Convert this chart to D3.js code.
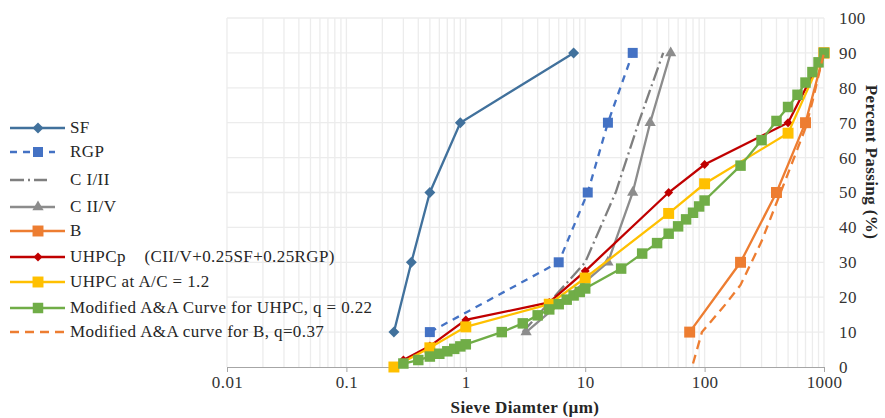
<!DOCTYPE html>
<html>
<head>
<meta charset="utf-8">
<script src="https://cdn.jsdelivr.net/npm/d3@7"></script>
<style>
  body { margin: 0; background: #fff; }
  text { font-family: "Liberation Serif", "Times New Roman", serif; letter-spacing: 0.4px; }
</style>
</head>
<body>
<div id="chart"></div>
<script>
// sieve sizes (um) and percent passing for each series
var sfD = [0.25, 0.35, 0.5, 0.9, 8];
var sfP = [10, 30, 50, 70, 90];
var rgpD = [0.5, 6, 10.5, 15.5, 25];
var rgpP = [10, 30, 50, 70, 90];
var c12D = [3, 10, 18, 28, 45];
var c12P = [10, 30, 50, 70, 90];
var c25D = [3.2, 15.5, 25, 35, 52];
var c25P = [10, 30, 50, 70, 90];
var bD = [75, 200, 400, 700, 1000];
var bP = [10, 30, 50, 70, 90];
var uhpcpD = [0.3, 0.5, 1, 5, 10, 50, 100, 500, 1000];
var uhpcpP = [2, 6, 13.5, 18.5, 27.5, 50, 58, 70, 90];
var uhpcD = [0.25, 0.5, 1, 5, 10, 50, 100, 500, 1000];
var uhpcP = [0, 5.5, 11.5, 18, 25.5, 44, 52.5, 67, 90];
var aaD = [0.3, 0.4, 0.5, 0.6, 0.7, 0.8, 0.9, 1, 2, 3, 4, 5, 6, 7, 8, 9, 10, 20, 30, 40, 50, 60, 70, 80, 90, 100, 200, 300, 400, 500, 600, 700, 800, 900, 1000];
var aaP = [1, 2, 3, 3.8, 4.5, 5.2, 5.9, 6.5, 10, 12.5, 14.8, 16.5, 18, 19.3, 20.5, 21.5, 22.5, 28.2, 32.5, 35.5, 38.2, 40.3, 42.3, 44.2, 46, 47.7, 57.7, 65, 70.5, 74.5, 78, 81.5, 84.5, 87.3, 90];
var aaBD = [80, 95, 150, 200, 300, 400, 500, 600, 700, 800, 900, 1000];
var aaBP = [1, 10, 18, 23.5, 36, 47, 55.5, 62.5, 68.5, 76, 83.5, 90];

var xTicks = [0.01, 0.1, 1, 10, 100, 1000];
var xTickLabels = ["0.01", "0.1", "1", "10", "100", "1000"];
var yTicks = [0, 10, 20, 30, 40, 50, 60, 70, 80, 90, 100];

var series = [
  { name: "SF", d: sfD, p: sfP, color: "#41719C", sym: "diamond", size: 60, dash: null, legLen: 55 },
  { name: "RGP", d: rgpD, p: rgpP, color: "#4472C4", sym: "square", size: 100, dash: "7,6", legLen: 45 },
  { name: "C I/II", d: c12D, p: c12P, color: "#7F7F7F", sym: null, dash: "14,4,2,4", legLen: 37 },
  { name: "C II/V", d: c25D, p: c25P, color: "#8C8C8C", sym: "triangle", size: 55, dash: null, legLen: 45 },
  { name: "B", d: bD, p: bP, color: "#ED7D31", sym: "square", size: 120, dash: null, legLen: 55 },
  { name: "UHPCp    (CII/V+0.25SF+0.25RGP)", d: uhpcpD, p: uhpcpP, color: "#C00000", sym: "diamond", size: 40, dash: null, legLen: 55 },
  { name: "UHPC at A/C = 1.2", d: uhpcD, p: uhpcP, color: "#FFC000", sym: "square", size: 120, dash: null, legLen: 55 },
  { name: "Modified A&A Curve for UHPC, q = 0.22", d: aaD, p: aaP, color: "#70AD47", sym: "square", size: 110, dash: null, legLen: 55 },
  { name: "Modified A&A curve for B, q=0.37", d: aaBD, p: aaBP, color: "#ED7D31", sym: null, dash: "9,6", legLen: 55 }
];

var width = 885, height = 418;
var svg = d3.select("#chart").append("svg")
  .attr("width", width)
  .attr("height", height);

var x = d3.scaleLog().domain([0.01, 1000]).range([227, 824]);
var y = d3.scaleLinear().domain([0, 100]).range([367, 18]);

// grid lines (log minor + major)
var gridX = [];
for (var e = -2; e < 3; e++) {
  for (var k = 1; k <= 9; k++) gridX.push(k * Math.pow(10, e));
}
gridX.push(1000);
svg.append("g").selectAll("line")
  .data(gridX)
  .enter().append("line")
  .attr("x1", function(d) { return x(d); })
  .attr("x2", function(d) { return x(d); })
  .attr("y1", y(0))
  .attr("y2", y(100))
  .attr("stroke", "#ececec")
  .attr("stroke-width", 1.3);

svg.append("g").selectAll("line")
  .data(yTicks.slice(1))
  .enter().append("line")
  .attr("x1", x(0.01))
  .attr("x2", x(1000))
  .attr("y1", function(d) { return y(d); })
  .attr("y2", function(d) { return y(d); })
  .attr("stroke", "#ececec")
  .attr("stroke-width", 1.3);

// bottom axis
var xAxis = svg.append("g")
  .attr("transform", "translate(0," + y(0) + ")")
  .call(d3.axisBottom(x).tickValues(xTicks).tickSize(5).tickFormat(function(d, i) { return xTickLabels[i]; }));
xAxis.select(".domain").attr("stroke", "#a6a6a6");
xAxis.selectAll(".tick line").attr("stroke", "#a6a6a6");
xAxis.selectAll(".tick text")
  .attr("y", 9)
  .style("font-family", "Liberation Serif")
  .style("font-size", "17px")
  .attr("fill", "#333");

// right axis labels
var yAxis = svg.append("g")
  .attr("transform", "translate(" + x(1000) + ",0)")
  .call(d3.axisRight(y).tickValues(yTicks).tickSize(0));
yAxis.select(".domain").remove();
yAxis.selectAll(".tick text")
  .attr("x", 15)
  .style("font-family", "Liberation Serif")
  .style("font-size", "17px")
  .attr("fill", "#333");

// axis titles
svg.append("text")
  .attr("x", 525)
  .attr("y", 413)
  .attr("text-anchor", "middle")
  .style("font-size", "17px")
  .style("font-weight", "bold")
  .attr("fill", "#262626")
  .text("Sieve Diamter (\u00b5m)");

svg.append("text")
  .attr("transform", "translate(866,162) rotate(90)")
  .attr("text-anchor", "middle")
  .style("font-size", "17px")
  .style("font-weight", "bold")
  .attr("fill", "#262626")
  .text("Percent Passing (%)");

function symbolFor(s) {
  var t = s.sym == "triangle" ? d3.symbolTriangle : d3.symbolSquare;
  return d3.symbol().type(t).size(s.size);
}
function placeSym(s, px, py) {
  return "translate(" + px + "," + py + ")" + (s.sym == "diamond" ? " rotate(45)" : "");
}

var line = d3.line()
  .x(function(d) { return x(d[0]); })
  .y(function(d) { return y(d[1]); });

// draw series
series.forEach(function(s) {
  var pts = s.d.map(function(d, i) { return [d, s.p[i]]; });
  var g = svg.append("g");
  g.append("path")
    .datum(pts)
    .attr("d", line)
    .attr("fill", "none")
    .attr("stroke", s.color)
    .attr("stroke-width", 2.3)
    .attr("stroke-dasharray", s.dash);
  if (s.sym) {
    g.selectAll("path.pt")
      .data(pts)
      .enter().append("path")
      .attr("class", "pt")
      .attr("transform", function(d) { return placeSym(s, x(d[0]), y(d[1])); })
      .attr("d", symbolFor(s))
      .attr("fill", s.color);
  }
});

// legend
var legY = [128, 152, 180, 207, 231, 257, 282, 308, 332];
var leg = svg.append("g");
series.forEach(function(s, i) {
  var ly = legY[i];
  leg.append("line")
    .attr("x1", 10)
    .attr("x2", 10 + s.legLen)
    .attr("y1", ly)
    .attr("y2", ly)
    .attr("stroke", s.color)
    .attr("stroke-width", 2.3)
    .attr("stroke-dasharray", s.dash);
  if (s.sym) {
    leg.append("path")
      .attr("transform", placeSym(s, 38, ly))
      .attr("d", symbolFor(s))
      .attr("fill", s.color);
  }
  leg.append("text")
    .attr("x", 70)
    .attr("y", ly + 5)
    .style("font-size", "17px")
    .attr("fill", "#262626")
    .style("white-space", "pre")
    .text(s.name);
});
</script>
</body>
</html>
